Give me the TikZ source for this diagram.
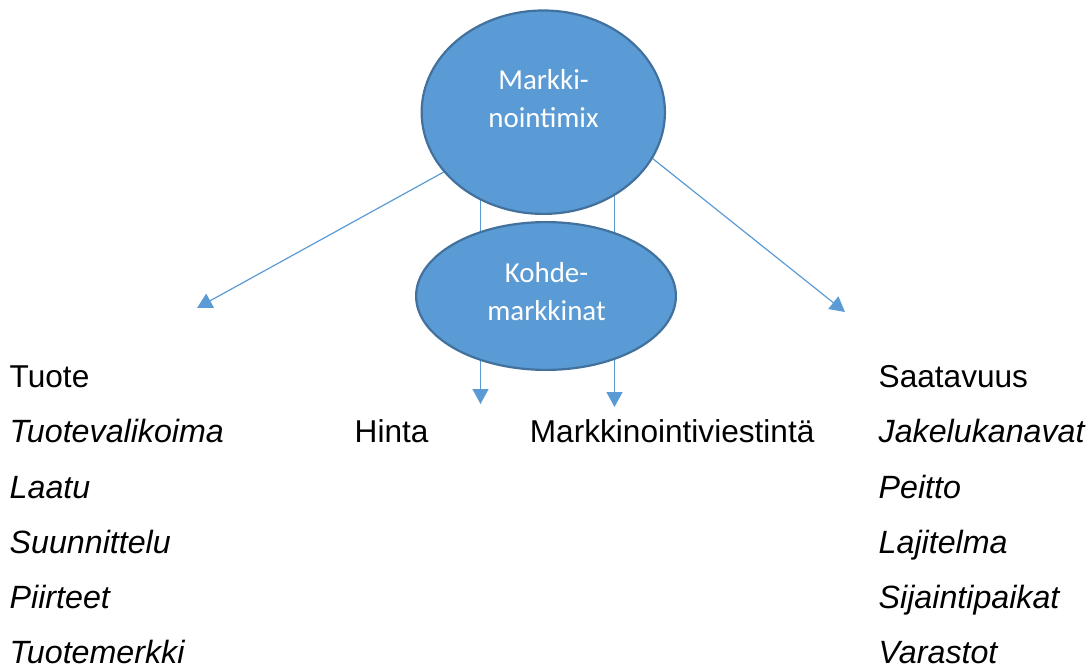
\documentclass[tikz,border=0pt]{standalone}
\usepackage{fontspec}
\setmainfont{Liberation Sans}
\newfontfamily\calibrifont{Carlito}
\usetikzlibrary{arrows.meta,shapes.geometric,backgrounds}
\definecolor{fillblue}{HTML}{5B9BD5}
\definecolor{edgeblue}{HTML}{41719C}
\definecolor{lineblue}{HTML}{5B9BD5}
\begin{document}
\begin{tikzpicture}[x=1pt,y=-1pt,
  bubble/.style={ellipse, fill=fillblue, draw=edgeblue, line width=2.2pt, inner sep=0pt},
  btext/.style={text=white, font=\calibrifont\fontsize{28.9}{34}\selectfont, inner sep=0pt, anchor=base},
  lbl/.style={font=\fontsize{31.6}{38}\selectfont, inner sep=0pt, anchor=base west},
  ilbl/.style={lbl, font=\fontsize{32.2}{38}\selectfont\itshape},
  conn/.style={draw=lineblue, line width=1.2pt, -{Triangle[length=15pt,width=16pt]}}]
\useasboundingbox (0,0) rectangle (1090,668);

\node[bubble, minimum width=243.3pt, minimum height=203.4pt] (mix) at (543.3,112.2) {};
\node[bubble, minimum width=259.8pt, minimum height=147.8pt] (km) at (546,296) {};

\node[btext] (mix1) at (543.5,90) {Markki-};
\node[btext] (mix2) at (543.5,128) {nointimix};
\node[btext] (km1) at (546.5,282.7) {Kohde-};
\node[btext] (km2) at (546.5,321) {markkinat};

\coordinate (tipT) at (197,308);
\coordinate (tipS) at (845,312);
\coordinate (tipH) at (480.5,404);
\coordinate (tipM) at (614.5,407);

\begin{pgfonlayer}{background}
\draw[conn] (mix.-149.2) -- (tipT);
\draw[conn] (mix.-23.7) -- (tipS);
\draw[conn] (tipH |- mix.center) -- (tipH);
\draw[conn] (tipM |- mix.center) -- (tipM);
\end{pgfonlayer}

\node[lbl]  (tuote) at (9.5,387) {Tuote};
\node[ilbl] (tvk)   at (9.5,442) {Tuotevalikoima};
\node[ilbl] (laatu) at (9.5,498) {Laatu};
\node[ilbl] (suun)  at (9.5,553) {Suunnittelu};
\node[ilbl] (piir)  at (9.5,608) {Piirteet};
\node[ilbl] (tmk)   at (9.5,663) {Tuotemerkki};

\node[lbl] (hinta) at (354.5,442) {Hinta};
\node[lbl] (mviest) at (529.7,442) {Markkinointiviestintä};

\node[lbl]  (saat)  at (878.5,387) {Saatavuus};
\node[ilbl] (jak)   at (878.5,442) {Jakelukanavat};
\node[ilbl] (peitto) at (878.5,498) {Peitto};
\node[ilbl] (lajit) at (878.5,553) {Lajitelma};
\node[ilbl] (sijp)  at (878.5,608) {Sijaintipaikat};
\node[ilbl] (var)   at (878.5,663) {Varastot};
\end{tikzpicture}
\end{document}
